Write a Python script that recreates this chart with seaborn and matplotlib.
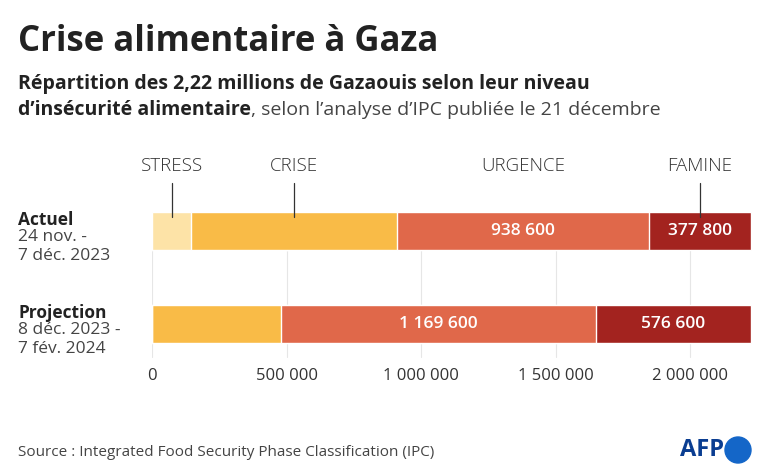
import matplotlib
matplotlib.use("Agg")
import matplotlib.pyplot as plt
import seaborn as sns
import pandas as pd
import numpy as np

sns.set_style("white")
plt.rcParams["font.family"] = ["Open Sans", "DejaVu Sans"]

periods = ["Actuel", "Projection"]
period_dates = ["24 nov. -\n7 déc. 2023", "8 déc. 2023 -\n7 fév. 2024"]
phases = ["STRESS", "CRISE", "URGENCE", "FAMINE"]
colors = ["#fde3a7", "#f9bb47", "#e0684a", "#a3231f"]
actuel = [145000, 764600, 938600, 377800]
projection = [0, 479800, 1169600, 576600]

rows = []
for p, vals in zip(periods, [actuel, projection]):
    cum = np.cumsum(vals)
    for ph, v, c in zip(phases, vals, cum):
        rows.append({"period": p, "phase": ph, "value": v, "cum": c})
df = pd.DataFrame(rows)

def fr(n):
    return f"{n:,.0f}".replace(",", " ")

fig = plt.figure(figsize=(7.68, 4.76), dpi=100)
ax = fig.add_axes([152/768, 1-365/476, (756-152)/768, 190/476])

# stacked bars: draw cumulative totals from largest to smallest
for ph, col in reversed(list(zip(phases, colors))):
    sub = df[df.phase == ph]
    sns.barplot(data=sub, x="cum", y="period", order=periods, color=col, orient="h",
                width=0.4, edgecolor="white", linewidth=1, ax=ax, saturation=1, zorder=2)

ax.set_xlim(0, 2.245e6)
ax.set_ylim(1.44, -0.602)
ax.set_xlabel(""); ax.set_ylabel("")
ax.set_yticks([])
ticks = [0, 500000, 1000000, 1500000, 2000000]
ax.set_xticks(ticks)
ax.set_xticklabels([fr(t) for t in ticks], fontsize=12, color="#333333")
ax.tick_params(axis="x", length=0, pad=2)
for s in ax.spines.values():
    s.set_visible(False)
for t in ticks:
    ax.plot([t, t], [-0.2, 1.35], color="#e6e6e6", lw=0.8, zorder=0)

# value labels
for i, vals in enumerate([actuel, projection]):
    cum = np.cumsum(vals)
    for j in (2, 3):
        ax.text(cum[j] - vals[j] / 2, i, fr(vals[j]), ha="center", va="center",
                color="white", fontsize=12.5, fontweight="semibold")

# phase labels with leader lines on the Actuel bar
cum = np.cumsum(actuel)
for j, ph in enumerate(phases):
    mid = cum[j] - actuel[j] / 2
    ax.text(mid, -0.6, ph, ha="center", va="bottom", fontsize=13.5, color="#333333",
            fontweight="light")
    if ph != "URGENCE":
        ax.plot([mid, mid], [-0.52, -0.15], color="#333333", lw=0.9)

# row labels
for i, (p, d) in enumerate(zip(periods, period_dates)):
    y = 1 - (231 + 93 * i) / 476
    fig.text(18/768, y + 0.005, p, fontsize=12.5, fontweight="bold", va="bottom", color="#222222")
    fig.text(18/768, y + 0.005, d, fontsize=12.5, va="top", color="#444444", linespacing=1.3)

fig.text(18/768, 1-42/476, "Crise alimentaire à Gaza", fontsize=25, fontweight="bold", va="center", color="#222222")
fig.text(18/768, 1-84/476, "Répartition des 2,22 millions de Gazaouis selon leur niveau",
         fontsize=14, fontweight="bold", va="center", color="#222222")
t = fig.text(18/768, 1-110/476, "d’insécurité alimentaire", fontsize=14, fontweight="bold",
             va="center", color="#222222")
fig.canvas.draw()
bb = t.get_window_extent()
fig.text(bb.x1 / 768, 1-110/476, ", selon l’analyse d’IPC publiée le 21 décembre",
         fontsize=14, va="center", color="#444444")

fig.text(18/768, 1-452/476, "Source : Integrated Food Security Phase Classification (IPC)",
         fontsize=11, va="center", color="#444444")
fig.text(724/768, 1-450/476, "AFP", fontsize=17, fontweight="bold", va="center", ha="right", color="#0a3d91")
fig.add_artist(matplotlib.patches.Ellipse((738/768, 1-450/476), 26/768, 26/476, color="#1466c8"))

fig.savefig("out.png", dpi=100)
